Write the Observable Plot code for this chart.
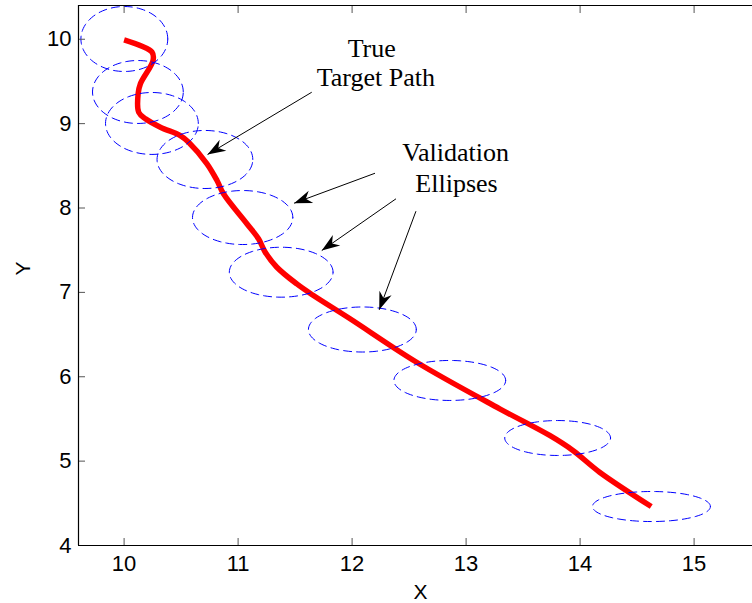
<!DOCTYPE html>
<html>
<head>
<meta charset="utf-8">
<script src="https://cdn.jsdelivr.net/npm/d3@7"></script>
<script src="https://cdn.jsdelivr.net/npm/@observablehq/plot@0.6"></script>
<style>
  body { margin: 0; background: #fff; }
  #chart svg { display: block; }
</style>
</head>
<body>
<div id="chart"></div>
<script>
// True target path (x, y)
const pathX = [10.000, 10.245, 10.254, 10.143, 10.123, 10.128, 10.187, 10.318, 10.493, 10.566,
               10.727, 10.815, 10.872, 11.077, 11.179, 11.238, 11.340, 11.515, 11.661, 11.982,
               12.566, 13.295, 13.733, 13.937, 14.171, 14.624];
const pathY = [9.993, 9.847, 9.748, 9.472, 9.353, 9.135, 9.057, 8.958, 8.859, 8.780,
               8.524, 8.326, 8.168, 7.813, 7.635, 7.476, 7.298, 7.100, 6.963, 6.687,
               6.172, 5.620, 5.304, 5.126, 4.869, 4.462];

// Validation ellipses: centres and semi-axes (data units)
const ellipseCX = [10.002, 10.121, 10.244, 10.709, 11.040, 11.378, 12.090, 12.857, 13.803, 14.626];
const ellipseCY = [10.003, 9.375, 9.002, 8.575, 7.887, 7.239, 6.560, 5.956, 5.274, 4.462];
const ellipseRX = [0.381, 0.398, 0.407, 0.420, 0.440, 0.455, 0.473, 0.490, 0.464, 0.517];
const ellipseRY = [0.385, 0.373, 0.367, 0.344, 0.320, 0.296, 0.267, 0.237, 0.207, 0.178];

// Axes
const xDomain = [9.6, 15.6];
const yDomain = [4, 10.4];
const xTicks = [10, 11, 12, 13, 14, 15];
const yTicks = [4, 5, 6, 7, 8, 9, 10];
const xLabel = "X";
const yLabel = "Y";

// Annotation text lines (centre x, middle y)
const noteText = ["True", "Target Path", "Validation", "Ellipses"];
const noteX = [12.172, 12.208, 12.908, 12.916];
const noteY = [9.894, 9.550, 8.653, 8.286];

// Annotation arrows: tail (x1, y1) to head (x2, y2)
const arrowX1 = [11.646, 12.201, 12.385, 12.560];
const arrowY1 = [9.372, 8.412, 8.109, 7.962];
const arrowX2 = [10.732, 11.491, 11.734, 12.238];
const arrowY2 = [8.634, 8.057, 7.496, 6.793];

const path = pathX.map((x, i) => ({x, y: pathY[i]}));

// Sample each ellipse outline as a closed polyline
const steps = 96;
const ellipsePts = [];
ellipseCX.forEach((cx, k) => {
  for (let j = 0; j <= steps; ++j) {
    const t = (2 * Math.PI * j) / steps;
    ellipsePts.push({k, x: cx + ellipseRX[k] * Math.cos(t), y: ellipseCY[k] + ellipseRY[k] * Math.sin(t)});
  }
});

const notes = noteText.map((text, i) => ({text, x: noteX[i], y: noteY[i]}));
const arrows = arrowX1.map((x1, i) => ({x1, y1: arrowY1[i], x2: arrowX2[i], y2: arrowY2[i]}));

// Filled, notched arrowhead
function filledArrow(color) {
  const ns = "http://www.w3.org/2000/svg";
  const m = document.createElementNS(ns, "marker");
  m.setAttribute("viewBox", "-20 -10 22 20");
  m.setAttribute("markerWidth", 22);
  m.setAttribute("markerHeight", 20);
  m.setAttribute("markerUnits", "userSpaceOnUse");
  m.setAttribute("orient", "auto");
  m.setAttribute("refX", 0);
  m.setAttribute("refY", 0);
  const p = document.createElementNS(ns, "path");
  p.setAttribute("d", "M0,0L-18,-6.5L-12.5,0L-18,6.5Z");
  p.setAttribute("fill", "black");
  p.setAttribute("stroke", "none");
  m.appendChild(p);
  return m;
}

const tickStroke = "#555";
const noText = () => "";
const plain = d => String(d);

const chart = Plot.plot({
  width: 752,
  height: 603,
  marginLeft: 78,
  marginRight: -10,
  marginTop: 5,
  marginBottom: 58,
  x: {domain: xDomain},
  y: {domain: yDomain},
  style: {fontFamily: "'Liberation Sans', Arial, Helvetica, sans-serif", fontSize: "22px", background: "#fff", color: "#000"},
  marks: [
    Plot.line(path, {x: "x", y: "y", stroke: "#ff0000", strokeWidth: 5.5, strokeLinejoin: "round", strokeLinecap: "butt", curve: "catmull-rom"}),
    Plot.line(ellipsePts, {x: "x", y: "y", z: "k", stroke: "#0000ff", strokeWidth: 1, strokeDasharray: "8,5", curve: "linear"}),
    Plot.link(arrows, {x1: "x1", y1: "y1", x2: "x2", y2: "y2", stroke: "black", strokeWidth: 1, markerEnd: filledArrow}),
    Plot.text(notes, {x: "x", y: "y", text: "text", fontFamily: "'Liberation Serif', 'Times New Roman', serif", fontSize: 26, textAnchor: "middle", lineAnchor: "middle", fill: "black"}),
    // inward tick marks
    Plot.axisX(xTicks, {anchor: "bottom", tickSize: -7, stroke: tickStroke, label: null, tickFormat: noText}),
    Plot.axisX(xTicks, {anchor: "top", tickSize: -7, stroke: tickStroke, label: null, tickFormat: noText}),
    Plot.axisY(yTicks, {anchor: "left", tickSize: -7, stroke: tickStroke, label: null, tickFormat: noText}),
    // tick labels
    Plot.axisX(xTicks, {anchor: "bottom", tickSize: 0, tickPadding: 10, label: null, tickFormat: plain, fill: "#000", fontSize: 22}),
    Plot.axisY(yTicks, {anchor: "left", tickSize: 0, tickPadding: 7, label: null, tickFormat: plain, fill: "#000", fontSize: 22}),
    // axes box (top, bottom, left)
    Plot.ruleY([yDomain[0]], {stroke: "black", strokeWidth: 1.2}),
    Plot.ruleY([yDomain[1]], {stroke: "black", strokeWidth: 1.2}),
    Plot.ruleX([xDomain[0]], {stroke: "black", strokeWidth: 1.2}),
    Plot.text([xLabel], {frameAnchor: "bottom", dy: 47, text: d => d, fontSize: 21, lineAnchor: "middle"}),
    Plot.text([yLabel], {frameAnchor: "left", dx: -55, text: d => d, fontSize: 21, rotate: -90, lineAnchor: "middle"})
  ]
});

document.getElementById("chart").appendChild(chart);
</script>
</body>
</html>
